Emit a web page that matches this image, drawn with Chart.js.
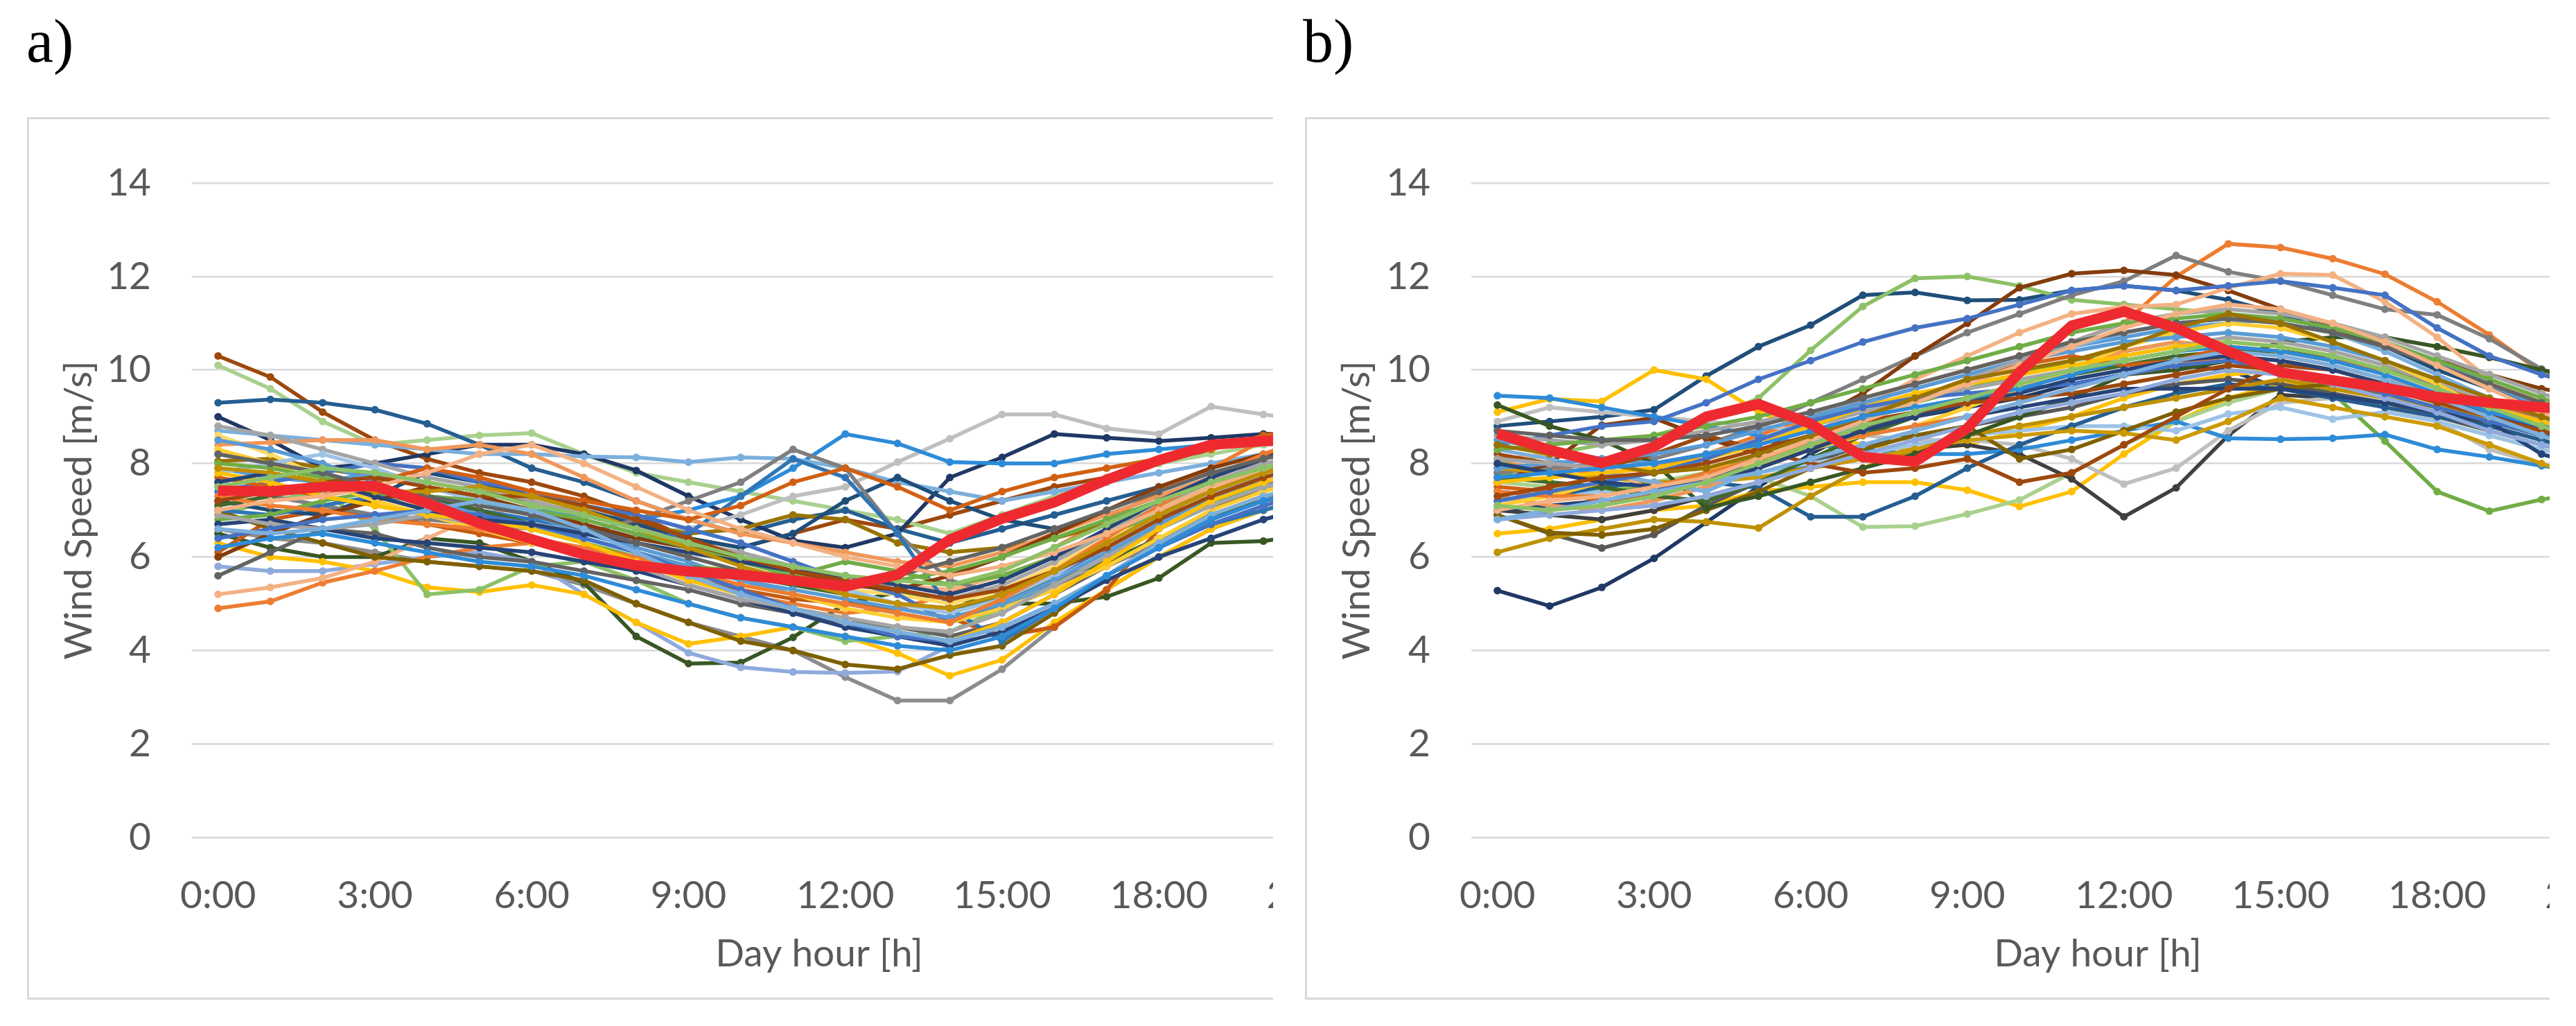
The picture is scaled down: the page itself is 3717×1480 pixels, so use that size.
<!DOCTYPE html>
<html lang="en">
<head>
<meta charset="UTF-8">
<title>Wind speed daily profiles</title>
<script src="https://cdn.jsdelivr.net/npm/chart.js"></script>
<style>
  body { margin: 0; width: 3717px; height: 1480px; background: #fff; position: relative; overflow: hidden; }
  .lab { position: absolute; top: 16px; font-family: "Liberation Serif", serif; font-size: 88px; line-height: 88px; color: #000; }
  .panel { position: absolute; top: 169px; height: 1273px; box-sizing: border-box; border: 3px solid #d9d9d9; border-right: none; overflow: hidden; background: #fff; }
  .panel canvas { display: block; width: 2100px; height: 1267px; }
</style>
</head>
<body>
<div class="lab" style="left:38px">a)</div>
<div class="lab" style="left:1880px">b)</div>
<div class="panel" style="left:39px; width:1798px"><canvas id="chartA" width="2100" height="1267"></canvas></div>
<div class="panel" style="left:1883px; width:1796px"><canvas id="chartB" width="2100" height="1267"></canvas></div>

<script>
// hour labels (the original axis runs 0:00..23:00, the picture is cut after 20:00)
var hours = [];
for (let h = 0; h < 24; h++) hours.push(h + ':00');

// a) wind speed [m/s], one row per day, hours 0..21
var windA = [
    [10.3, 9.85, 9.1, 8.5, 8.1, 7.8, 7.6, 7.3, 6.9, 6.4, 6.2, 6.5, 6.8, 6.6, 6.9, 7.2, 7.5, 7.7, 8.0, 8.3, 8.6, 8.8],
    [10.1, 9.6, 8.9, 8.4, 8.5, 8.6, 8.65, 8.2, 7.8, 7.6, 7.4, 7.2, 7.0, 6.8, 6.5, 6.9, 7.3, 7.7, 8.0, 8.2, 8.4, 8.5],
    [9.3, 9.37, 9.3, 9.15, 8.85, 8.4, 7.9, 7.6, 7.2, 6.8, 6.5, 6.8, 7.0, 6.6, 6.3, 6.6, 6.9, 7.2, 7.5, 7.8, 8.0, 8.2],
    [9.0, 8.5, 7.9, 8.0, 8.2, 8.4, 8.4, 8.2, 7.85, 7.3, 6.8, 6.35, 6.2, 6.5, 7.7, 8.13, 8.63, 8.55, 8.48, 8.55, 8.63, 8.65],
    [7.6, 7.4, 7.3, 7.1, 6.9, 6.8, 6.7, 6.6, 6.5, 6.6, 6.9, 7.3, 7.5, 8.03, 8.53, 9.05, 9.05, 8.75, 8.63, 9.22, 9.05, 8.9],
    [8.2, 8.0, 7.8, 7.5, 7.3, 7.2, 7.0, 6.9, 6.8, 7.0, 7.3, 7.9, 8.63, 8.43, 8.03, 8.0, 8.0, 8.2, 8.3, 8.4, 8.5, 8.6],
    [8.7, 8.6, 8.5, 8.4, 8.3, 8.2, 8.2, 8.15, 8.13, 8.03, 8.13, 8.1, 7.9, 7.6, 7.4, 7.2, 7.4, 7.6, 7.8, 8.0, 8.2, 8.3],
    [6.6, 6.4, 6.3, 6.1, 5.9, 5.8, 5.7, 5.4, 5.0, 4.6, 4.3, 4.0, 3.43, 2.93, 2.93, 3.6, 4.5, 5.3, 6.0, 6.6, 7.0, 7.3],
    [6.5, 6.2, 6.0, 6.0, 6.4, 6.3, 5.9, 5.45, 4.3, 3.72, 3.74, 4.28, 5.0, 5.25, 5.1, 5.0, 5.0, 5.15, 5.55, 6.3, 6.34, 6.5],
    [5.8, 5.7, 5.7, 5.85, 6.0, 6.1, 5.9, 5.2, 4.6, 3.95, 3.64, 3.54, 3.52, 3.55, 4.1, 4.6, 5.2, 5.8, 6.3, 6.8, 7.2, 7.5],
    [6.3, 6.0, 5.9, 5.7, 5.35, 5.25, 5.4, 5.2, 4.6, 4.14, 4.3, 4.5, 4.3, 3.94, 3.46, 3.8, 4.6, 5.3, 6.0, 6.6, 7.0, 7.3],
    [6.9, 7.2, 7.4, 6.6, 5.2, 5.3, 5.8, 5.9, 5.5, 5.0, 4.7, 4.5, 4.2, 4.3, 4.4, 4.9, 5.5, 6.1, 6.6, 7.1, 7.5, 7.8],
    [4.9, 5.05, 5.45, 5.7, 6.0, 6.2, 6.3, 6.2, 6.0, 5.6, 5.2, 5.0, 4.8, 4.9, 5.2, 5.7, 6.2, 6.8, 7.4, 7.9, 8.5, 8.9],
    [5.2, 5.35, 5.55, 5.9, 6.4, 6.9, 7.1, 7.0, 6.7, 6.3, 6.0, 5.8, 5.6, 5.4, 5.3, 5.6, 6.0, 6.5, 7.0, 7.5, 7.8, 8.0],
    [5.6, 6.1, 6.6, 6.5, 6.2, 6.0, 5.9, 5.7, 5.5, 5.3, 5.0, 4.8, 4.6, 4.5, 4.3, 4.6, 5.2, 5.8, 6.4, 6.9, 7.3, 7.5],
    [6.1, 6.8, 7.0, 6.9, 6.7, 6.5, 6.3, 6.0, 5.8, 5.6, 5.3, 5.1, 5.0, 4.9, 4.7, 4.3, 4.5, 5.3, 6.6, 7.2, 7.6, 7.9],
    [8.05, 8.1, 7.9, 7.7, 7.6, 7.4, 7.2, 6.9, 6.7, 6.5, 6.6, 6.9, 6.8, 6.3, 6.1, 6.2, 6.4, 6.7, 7.0, 7.4, 7.8, 8.1],
    [7.0, 6.6, 6.3, 6.0, 5.9, 5.8, 5.7, 5.5, 5.0, 4.6, 4.2, 4.0, 3.7, 3.6, 3.9, 4.1, 4.8, 5.6, 6.3, 7.0, 7.5, 7.8],
    [7.2, 7.0, 6.9, 7.3, 7.8, 7.6, 7.3, 7.0, 6.7, 6.4, 6.2, 6.5, 7.2, 7.7, 7.2, 6.8, 6.6, 6.9, 7.3, 7.7, 8.1, 8.4],
    [7.5, 7.3, 7.1, 6.9, 6.8, 6.7, 6.6, 6.5, 6.8, 7.2, 7.6, 8.3, 7.9, 6.5, 5.5, 5.2, 5.4, 5.8, 6.3, 6.8, 7.2, 7.5],
    [7.0, 6.9, 7.1, 7.3, 7.2, 7.0, 6.8, 6.6, 6.4, 6.5, 7.3, 8.1, 7.7, 6.5, 4.9, 4.2, 4.9, 5.6, 6.2, 6.7, 7.0, 7.3],
    [8.6, 8.2, 7.7, 7.3, 7.0, 6.8, 6.6, 6.3, 6.0, 5.8, 5.7, 5.5, 5.3, 5.2, 5.0, 5.3, 5.8, 6.4, 7.0, 7.6, 8.0, 8.2],
    [7.9, 7.7, 7.6, 7.8, 7.5, 7.2, 6.9, 6.5, 6.2, 5.9, 5.5, 5.2, 5.0, 4.8, 4.6, 4.9, 5.4, 6.0, 6.6, 7.1, 7.5, 7.8],
    [6.8, 6.9, 7.2, 7.4, 7.1, 6.9, 6.6, 6.3, 6.0, 5.8, 5.7, 5.6, 5.9, 5.7, 5.4, 5.6, 6.0, 6.5, 6.9, 7.2, 7.5, 7.6],
    [7.4, 7.6, 7.8, 8.0, 7.9, 7.6, 7.4, 7.1, 6.9, 6.6, 6.3, 5.9, 5.5, 5.2, 4.6, 5.0, 5.6, 6.2, 6.8, 7.3, 7.6, 7.8],
    [8.4, 8.45, 8.5, 8.5, 8.3, 8.4, 8.2, 7.7, 7.2, 6.8, 6.5, 6.3, 6.1, 5.9, 5.8, 6.1, 6.5, 6.9, 7.3, 7.7, 8.1, 8.4],
    [8.8, 8.6, 8.3, 8.0, 7.7, 7.5, 7.2, 6.9, 6.6, 6.3, 6.1, 5.8, 5.6, 5.3, 5.1, 5.4, 5.9, 6.5, 7.1, 7.6, 8.0, 8.2],
    [7.1, 7.3, 7.5, 7.4, 7.3, 7.0, 6.7, 6.4, 6.1, 5.8, 5.6, 5.4, 5.2, 5.0, 4.9, 5.1, 5.5, 5.9, 6.4, 6.9, 7.2, 7.4],
    [7.8, 8.0, 8.2, 7.9, 7.5, 7.2, 7.0, 6.8, 6.5, 6.2, 5.9, 5.6, 5.3, 5.0, 4.8, 5.1, 5.6, 6.3, 6.9, 7.4, 7.7, 8.0],
    [6.0, 6.5, 6.9, 7.2, 7.5, 7.3, 7.0, 6.7, 6.4, 6.2, 6.0, 5.7, 5.4, 5.3, 5.6, 6.0, 6.5, 7.0, 7.5, 7.9, 8.2, 8.4],
    [8.3, 8.0, 7.6, 7.2, 6.9, 6.6, 6.3, 6.1, 5.9, 5.6, 5.4, 5.2, 4.9, 4.7, 4.6, 4.9, 5.3, 5.8, 6.4, 7.0, 7.4, 7.7],
    [6.7, 6.8, 6.6, 6.4, 6.3, 6.2, 6.1, 5.9, 5.7, 5.4, 5.1, 4.8, 4.5, 4.3, 4.1, 4.4, 4.9, 5.5, 6.0, 6.4, 6.8, 7.1],
    [7.7, 7.5, 7.3, 7.6, 7.9, 7.7, 7.4, 7.2, 7.0, 6.8, 7.1, 7.6, 7.9, 7.5, 7.0, 7.4, 7.7, 7.9, 8.1, 8.3, 8.6, 8.8],
    [8.5, 8.3, 8.0, 7.6, 7.2, 6.9, 6.6, 6.4, 6.1, 5.8, 5.5, 5.3, 5.1, 4.9, 4.7, 5.0, 5.5, 6.1, 6.7, 7.3, 7.7, 8.0],
    [7.3, 7.1, 7.0, 6.8, 6.7, 6.6, 6.4, 6.2, 6.0, 5.7, 5.4, 5.2, 5.0, 4.8, 4.6, 5.1, 5.7, 6.4, 7.1, 7.7, 8.2, 8.6],
    [6.9, 6.7, 6.6, 6.7, 6.9, 6.7, 6.4, 6.1, 5.8, 5.4, 5.1, 4.9, 4.7, 4.5, 4.4, 4.8, 5.4, 6.0, 6.6, 7.1, 7.5, 7.7],
    [7.8, 7.6, 7.3, 7.1, 6.9, 6.8, 6.6, 6.3, 5.9, 5.5, 5.2, 4.9, 4.6, 4.4, 4.2, 4.6, 5.2, 5.9, 6.6, 7.2, 7.6, 7.9],
    [6.4, 6.6, 6.8, 6.9, 7.0, 6.9, 6.7, 6.4, 6.1, 5.7, 5.3, 4.9, 4.6, 4.3, 4.2, 4.5, 5.0, 5.6, 6.2, 6.7, 7.1, 7.4],
    [8.0, 7.9, 7.7, 7.5, 7.3, 7.2, 7.0, 6.8, 6.5, 6.2, 5.9, 5.6, 5.4, 5.5, 5.7, 6.0, 6.4, 6.8, 7.2, 7.6, 7.9, 8.1],
    [7.6, 7.8, 7.6, 7.3, 7.0, 6.8, 6.7, 6.5, 6.3, 6.1, 5.9, 5.7, 5.6, 5.4, 5.2, 5.5, 6.0, 6.6, 7.2, 7.7, 8.1, 8.4],
    [7.2, 7.4, 7.6, 7.7, 7.5, 7.3, 7.3, 7.1, 6.8, 6.4, 6.0, 5.7, 5.5, 5.3, 5.1, 5.3, 5.7, 6.2, 6.8, 7.3, 7.7, 8.0],
    [8.2, 8.0, 7.8, 7.5, 7.3, 7.1, 6.9, 6.6, 6.3, 6.0, 5.7, 5.5, 5.4, 5.6, 5.9, 6.2, 6.6, 7.0, 7.4, 7.8, 8.1, 8.3],
    [7.0, 7.2, 7.3, 7.5, 7.8, 8.2, 8.4, 8.0, 7.5, 7.0, 6.6, 6.3, 6.0, 5.8, 5.6, 5.8, 6.1, 6.5, 7.0, 7.5, 7.9, 8.2],
    [6.6, 6.5, 6.6, 6.8, 7.0, 7.2, 7.0, 6.6, 6.1, 5.6, 5.2, 4.9, 4.6, 4.4, 4.2, 4.5, 5.0, 5.6, 6.3, 6.9, 7.3, 7.6],
    [7.9, 7.8, 7.6, 7.4, 7.4, 7.5, 7.3, 7.0, 6.6, 6.2, 5.8, 5.5, 5.2, 5.0, 4.9, 5.2, 5.7, 6.3, 6.9, 7.4, 7.8, 8.1],
    [6.2, 6.4, 6.5, 6.3, 6.1, 5.9, 5.8, 5.6, 5.3, 5.0, 4.7, 4.5, 4.3, 4.1, 4.0, 4.3, 4.9, 5.6, 6.2, 6.8, 7.2, 7.5],
    [7.5, 7.7, 7.9, 7.8, 7.6, 7.4, 7.1, 6.9, 6.6, 6.3, 6.0, 5.8, 5.6, 5.5, 5.4, 5.7, 6.2, 6.7, 7.2, 7.6, 7.9, 8.2]
];
var colorsA = ['#9E480E', '#A9D18E', '#255E91', '#203864', '#BFBFBF', '#2E8BD8', '#7CAFDD', '#8C8C8C', '#385723',
    '#8FAADC', '#FFC000', '#8CC168', '#ED7D31', '#F4B183', '#636363', '#C55A11', '#997300', '#7F6000', '#1F4E79',
    '#7F7F7F', '#2F75B5', '#FFD966', '#5B9BD5', '#70AD47', '#4472C4', '#F1975A', '#A5A5A5', '#43682B', '#9DC3E6',
    '#843C0C', '#FFCD33', '#264478', '#D26012', '#5B9BD5', '#ED7D31', '#A5A5A5', '#FFC000', '#4472C4', '#70AD47',
    '#264478', '#9E480E', '#636363', '#F4B183', '#7CAFDD', '#BF9000', '#2E8BD8', '#8CC168'];
var meanA = [7.42, 7.4, 7.5, 7.52, 7.15, 6.72, 6.38, 6.05, 5.82, 5.69, 5.62, 5.5, 5.37, 5.62, 6.37, 6.82, 7.17, 7.65, 8.07, 8.4, 8.48, 8.5];

// b) wind speed [m/s], one row per day, hours 0..21
var windB = [
    [5.28, 4.95, 5.35, 5.97, 6.74, 7.5, 8.2, 8.8, 9.0, 9.2, 9.4, 9.7, 9.9, 10.1, 10.0, 9.6, 9.4, 9.3, 9.1, 8.9, 8.6, 8.3],
    [8.8, 8.9, 9.0, 9.15, 9.87, 10.5, 10.96, 11.6, 11.66, 11.49, 11.5, 11.7, 11.8, 11.7, 11.5, 11.2, 10.8, 10.5, 10.0, 9.6, 9.2, 8.8],
    [9.1, 9.38, 9.33, 10.0, 9.8, 9.1, 8.7, 8.4, 8.3, 8.4, 8.7, 9.0, 9.4, 9.7, 9.9, 10.0, 9.8, 9.6, 9.3, 9.0, 8.7, 8.5],
    [6.5, 6.6, 6.8, 7.0, 7.1, 7.4, 7.5, 7.6, 7.6, 7.43, 7.08, 7.4, 8.2, 8.9, 9.4, 9.7, 9.6, 9.4, 9.1, 8.9, 8.7, 8.5],
    [7.6, 7.5, 7.4, 7.6, 7.8, 7.7, 7.3, 6.64, 6.66, 6.92, 7.22, 7.8, 8.4, 8.9, 9.3, 9.6, 9.5, 9.2, 8.9, 8.6, 8.3, 8.0],
    [8.0, 8.2, 8.4, 8.6, 8.9, 9.4, 10.42, 11.36, 11.96, 12.0, 11.8, 11.5, 11.4, 11.3, 11.2, 11.0, 10.8, 10.5, 10.1, 9.7, 9.3, 8.9],
    [7.8, 7.6, 7.4, 7.5, 7.8, 8.2, 8.6, 9.0, 9.3, 9.6, 9.9, 10.2, 10.4, 10.6, 10.4, 10.0, 9.5, 8.48, 7.4, 6.98, 7.23, 7.4],
    [8.0, 7.9, 7.8, 7.9, 8.2, 8.6, 9.0, 9.4, 9.7, 10.0, 10.3, 10.6, 11.0, 12.0, 12.7, 12.62, 12.38, 12.05, 11.46, 10.75, 9.95, 9.5],
    [7.0, 6.9, 6.8, 7.0, 7.3, 7.6, 7.9, 8.1, 8.3, 8.4, 8.2, 7.67, 6.86, 7.48, 8.6, 9.47, 9.4, 9.3, 9.1, 8.8, 8.5, 8.2],
    [6.9, 6.5, 6.19, 6.48, 7.1, 7.6, 8.0, 8.4, 8.6, 8.8, 9.0, 9.2, 9.5, 9.7, 9.8, 9.7, 9.5, 9.3, 9.0, 8.7, 8.4, 8.1],
    [8.9, 9.2, 9.1, 9.0, 8.9, 8.8, 8.7, 8.6, 8.5, 8.5, 8.4, 8.1, 7.56, 7.9, 8.7, 9.3, 9.4, 9.2, 8.9, 8.3, 7.98, 7.63],
    [7.8, 7.9, 8.0, 8.1, 8.4, 8.8, 9.3, 9.8, 10.3, 10.8, 11.2, 11.6, 11.9, 12.45, 12.1, 11.9, 11.6, 11.3, 11.18, 10.67, 10.02, 9.5],
    [7.6, 8.0, 8.82, 8.97, 8.54, 8.2, 8.9, 9.5, 10.3, 11.0, 11.76, 12.06, 12.13, 12.03, 11.7, 11.3, 10.9, 10.5, 10.2, 9.9, 9.6, 9.4],
    [9.45, 9.4, 9.2, 9.0, 8.8, 8.6, 8.4, 8.3, 8.2, 8.2, 8.3, 8.5, 8.7, 8.9, 8.54, 8.52, 8.54, 8.62, 8.3, 8.14, 7.95, 7.8],
    [7.2, 7.3, 7.4, 7.2, 7.5, 7.8, 8.0, 8.2, 8.4, 8.6, 8.7, 8.8, 8.8, 8.7, 9.06, 9.2, 8.95, 9.1, 8.9, 8.6, 8.3, 8.0],
    [7.4, 7.3, 7.5, 7.6, 7.6, 7.48, 6.86, 6.86, 7.3, 7.9, 8.4, 8.8, 9.2, 9.5, 9.7, 9.6, 9.4, 9.2, 9.0, 8.8, 8.5, 8.2],
    [6.1, 6.4, 6.6, 6.8, 6.75, 6.62, 7.3, 7.9, 8.3, 8.6, 8.8, 9.0, 9.2, 9.4, 9.6, 9.8, 9.6, 9.4, 9.2, 9.0, 8.7, 8.4],
    [6.9, 6.52, 6.47, 6.6, 7.0, 7.4, 7.9, 8.3, 8.6, 8.8, 8.1, 8.3, 8.7, 9.1, 9.4, 9.6, 9.7, 9.5, 9.2, 8.9, 8.6, 8.3],
    [7.9, 7.8, 7.7, 7.6, 7.6, 7.7, 7.9, 8.1, 8.3, 8.5, 8.6, 8.7, 8.65, 8.5, 8.9, 9.4, 9.2, 9.0, 8.8, 8.4, 8.0, 7.6],
    [9.25, 8.8, 8.5, 8.0, 7.05, 7.3, 7.6, 7.9, 8.2, 8.6, 9.0, 9.4, 9.9, 10.0, 10.2, 10.6, 10.7, 10.7, 10.5, 10.27, 10.0, 9.8],
    [8.09, 8.2, 8.0, 7.38, 7.6, 8.0, 8.6, 9.2, 9.8, 10.3, 10.8, 11.2, 11.35, 11.4, 11.76, 12.06, 12.03, 11.46, 10.7, 9.8, 9.3, 9.0],
    [8.4, 8.6, 8.8, 8.9, 9.3, 9.8, 10.2, 10.6, 10.9, 11.1, 11.4, 11.7, 11.8, 11.7, 11.8, 11.9, 11.76, 11.6, 10.9, 10.3, 9.9, 9.6],
    [7.0, 7.1, 7.2, 7.4, 7.7, 8.0, 8.3, 8.6, 8.8, 9.0, 9.2, 9.4, 9.6, 9.6, 9.6, 9.6, 9.45, 9.3, 9.09, 8.9, 8.2, 7.9],
    [8.5, 8.3, 8.1, 8.0, 8.2, 8.5, 8.9, 9.3, 9.6, 9.9, 10.2, 10.5, 10.7, 10.9, 11.0, 11.1, 10.9, 10.6, 10.2, 9.7, 9.2, 8.8],
    [7.3, 7.1, 7.0, 7.2, 7.5, 7.9, 8.3, 8.7, 9.0, 9.3, 9.6, 10.0, 10.4, 10.6, 10.5, 10.3, 10.1, 9.8, 9.5, 9.2, 8.9, 8.6],
    [8.2, 8.0, 7.9, 8.2, 8.6, 8.3, 8.0, 7.8, 7.9, 8.1, 7.6, 7.8, 8.4, 9.0, 9.6, 10.1, 10.0, 9.7, 9.4, 9.1, 8.8, 8.6],
    [7.7, 7.6, 7.5, 7.3, 7.2, 7.6, 8.1, 8.6, 9.0, 9.3, 9.6, 9.9, 10.1, 10.3, 10.4, 10.4, 10.3, 10.0, 9.7, 9.3, 8.9, 8.5],
    [8.3, 8.1, 7.8, 7.6, 7.4, 7.9, 8.4, 8.9, 9.3, 9.7, 10.1, 10.5, 10.8, 11.0, 11.1, 11.0, 10.8, 10.4, 9.9, 9.4, 8.9, 8.5],
    [8.6, 8.5, 8.4, 8.5, 8.7, 8.9, 9.1, 9.3, 9.4, 9.6, 9.8, 10.0, 10.3, 10.5, 10.7, 10.6, 10.4, 10.1, 9.7, 9.3, 8.9, 8.6],
    [6.8, 6.9, 7.0, 7.1, 7.3, 7.6, 7.9, 8.2, 8.5, 8.8, 9.1, 9.3, 9.5, 9.8, 10.0, 9.9, 9.7, 9.4, 9.1, 8.7, 8.4, 8.1],
    [7.5, 7.4, 7.2, 7.3, 7.6, 8.0, 8.5, 9.0, 9.4, 9.8, 10.1, 10.3, 10.1, 10.2, 10.5, 10.4, 10.2, 10.0, 9.6, 9.3, 9.0, 8.7],
    [7.1, 7.3, 7.6, 7.8, 7.9, 8.0, 8.3, 8.6, 8.8, 9.2, 9.6, 10.0, 10.5, 10.8, 11.0, 10.9, 10.6, 10.2, 9.7, 9.1, 8.6, 8.2],
    [7.9, 8.0, 8.1, 8.2, 8.4, 8.7, 9.0, 9.3, 9.6, 9.9, 10.2, 10.4, 10.6, 10.7, 10.8, 10.7, 10.5, 10.2, 9.8, 9.4, 9.0, 8.6],
    [7.4, 7.3, 7.3, 7.5, 7.8, 8.1, 8.4, 8.6, 8.8, 9.0, 9.3, 9.6, 9.9, 10.1, 10.3, 10.2, 10.0, 9.7, 9.4, 9.1, 8.8, 8.5],
    [8.1, 8.0, 7.9, 8.0, 8.2, 8.5, 8.8, 9.1, 9.4, 9.8, 10.2, 10.6, 11.0, 11.2, 11.3, 11.2, 11.0, 10.7, 10.3, 9.9, 9.5, 9.1],
    [7.6, 7.7, 7.8, 7.9, 8.1, 8.4, 8.8, 9.2, 9.5, 9.7, 9.9, 10.1, 10.3, 10.5, 10.6, 10.5, 10.3, 10.0, 9.6, 9.2, 8.9, 8.6],
    [7.2, 7.4, 7.6, 7.8, 8.1, 8.5, 8.9, 9.2, 9.4, 9.5, 9.6, 9.7, 9.9, 10.1, 10.2, 10.0, 9.8, 9.5, 9.2, 8.9, 8.6, 8.3],
    [8.3, 8.4, 8.5, 8.6, 8.8, 9.0, 9.3, 9.6, 9.9, 10.2, 10.5, 10.8, 11.0, 11.1, 11.2, 11.1, 10.9, 10.6, 10.2, 9.8, 9.4, 9.0],
    [8.0, 7.8, 7.6, 7.5, 7.6, 7.9, 8.3, 8.7, 9.0, 9.3, 9.5, 9.8, 10.0, 10.2, 10.3, 10.2, 10.0, 9.7, 9.4, 9.1, 8.7, 8.3],
    [7.3, 7.5, 7.7, 7.8, 8.0, 8.3, 8.6, 8.9, 9.1, 9.3, 9.4, 9.5, 9.7, 9.9, 10.1, 10.0, 9.8, 9.6, 9.3, 9.0, 8.7, 8.4],
    [8.7, 8.6, 8.5, 8.5, 8.6, 8.8, 9.1, 9.4, 9.7, 10.0, 10.3, 10.6, 10.8, 11.0, 11.1, 11.0, 10.8, 10.5, 10.1, 9.7, 9.3, 8.9],
    [7.0, 7.2, 7.3, 7.5, 7.7, 8.1, 8.5, 8.9, 9.3, 9.7, 10.1, 10.5, 10.9, 11.2, 11.4, 11.3, 11.0, 10.6, 10.1, 9.6, 9.1, 8.7],
    [6.8, 7.0, 7.2, 7.4, 7.6, 7.8, 8.1, 8.4, 8.7, 9.0, 9.3, 9.6, 9.9, 10.2, 10.4, 10.3, 10.1, 9.8, 9.4, 9.0, 8.6, 8.2],
    [8.4, 8.2, 8.0, 7.8, 7.9, 8.2, 8.6, 9.0, 9.4, 9.8, 10.0, 10.2, 10.5, 10.9, 11.2, 11.0, 10.6, 10.2, 9.8, 9.4, 9.0, 8.7],
    [7.7, 7.8, 7.9, 8.0, 8.2, 8.4, 8.7, 9.0, 9.2, 9.4, 9.6, 9.9, 10.2, 10.4, 10.5, 10.4, 10.2, 9.9, 9.5, 9.1, 8.8, 8.5],
    [7.1, 7.0, 7.1, 7.3, 7.6, 8.0, 8.4, 8.8, 9.1, 9.4, 9.7, 10.0, 10.2, 10.4, 10.6, 10.5, 10.3, 10.0, 9.6, 9.2, 8.8, 8.4]
];
var colorsB = ['#203864', '#1F4E79', '#FFC000', '#FFC000', '#A9D18E', '#8CC168', '#70AD47', '#ED7D31', '#404040',
    '#595959', '#BFBFBF', '#7F7F7F', '#843C0C', '#2E8BD8', '#9DC3E6', '#255E91', '#BF9000', '#7F6000', '#CC9A00',
    '#385723', '#F4B183', '#4472C4', '#264478', '#5B9BD5', '#F1975A', '#9E480E', '#43682B', '#7CAFDD', '#A5A5A5',
    '#8FAADC', '#D26012', '#FFCD33', '#5B9BD5', '#ED7D31', '#A5A5A5', '#FFC000', '#4472C4', '#70AD47', '#264478',
    '#9E480E', '#636363', '#F4B183', '#7CAFDD', '#997300', '#2E8BD8', '#8CC168'];
var meanB = [8.64, 8.29, 8.01, 8.36, 9.0, 9.27, 8.85, 8.14, 8.04, 8.75, 9.95, 10.95, 11.25, 10.9, 10.4, 9.95, 9.78, 9.62, 9.42, 9.3, 9.2, 9.15];

var yTicks = [0, 2, 4, 6, 8, 10, 12, 14];

var fonte = { family: 'Lato', size: 55 };
var cinza = '#595959';

function criarGrafico(id, series, cores, media, esquerda) {
    // Chart.js paints dataset 0 last, so the mean goes first to stay on top
    var datasets = [{
        data: media,
        borderColor: '#EE2A30',
        backgroundColor: '#EE2A30',
        borderWidth: 15,
        pointRadius: 0,
        pointHoverRadius: 0
    }];
    // reversed so the first day ends up at the bottom, like in Excel
    for (let i = series.length - 1; i >= 0; i--) {
        datasets.push({
            data: series[i],
            borderColor: cores[i],
            backgroundColor: cores[i],
            borderWidth: 5.5,
            pointRadius: 5.5,
            pointBorderWidth: 0,
            pointHoverRadius: 0
        });
    }

    return new Chart(document.getElementById(id), {
        type: 'line',
        data: { labels: hours, datasets: datasets },
        options: {
            responsive: false,
            animation: false,
            devicePixelRatio: 1,
            events: [],
            layout: { padding: { top: 48, left: 0, right: 55, bottom: 0 } },
            plugins: { legend: { display: false }, tooltip: { enabled: false } },
            scales: {
                x: {
                    offset: true,
                    grid: { display: false, drawTicks: false },
                    border: { display: false },
                    ticks: {
                        autoSkip: false,
                        maxRotation: 0,
                        padding: 51,
                        color: cinza,
                        font: fonte,
                        callback: function (v, i) { return i % 3 === 0 ? hours[i] : ''; }
                    },
                    title: { display: true, text: 'Day hour [h]', color: cinza, font: fonte, padding: { top: 0, bottom: 30 } },
                    afterFit: function (s) { s.height = 231; }
                },
                y: {
                    min: 0,
                    max: 14,
                    afterBuildTicks: function (s) { s.ticks = yTicks.map(function (v) { return { value: v }; }); },
                    grid: { color: '#d9d9d9', lineWidth: 2.5, drawTicks: false },
                    border: { display: false },
                    ticks: { padding: 59, color: cinza, font: fonte },
                    title: { display: true, text: 'Wind Speed [m/s]', color: cinza, font: fonte, padding: { top: 39, bottom: 0 } },
                    afterFit: function (s) { s.width = esquerda; }
                }
            }
        }
    });
}

document.fonts.load('55px Lato').then(function () {
    criarGrafico('chartA', windA, colorsA, meanA, 235);
    criarGrafico('chartB', windB, colorsB, meanB, 237);
});
</script>
</body>
</html>
